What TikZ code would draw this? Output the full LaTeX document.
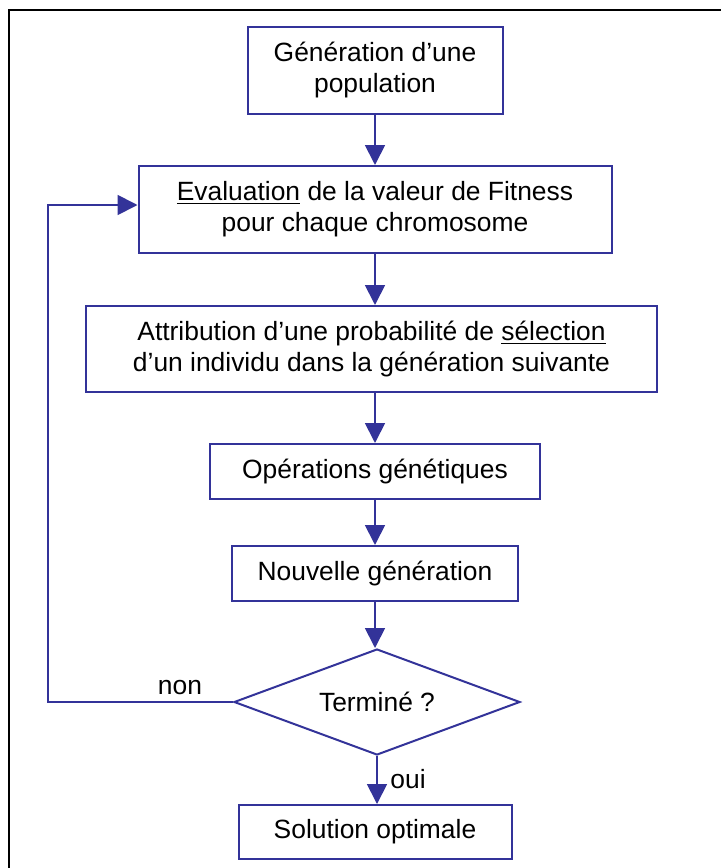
\documentclass[tikz,border=0pt]{standalone}
\usepackage{fontspec}
\setmainfont{Liberation Sans}
\usetikzlibrary{arrows.meta,shapes.geometric}
\definecolor{flowblue}{RGB}{51,51,153}
\tikzset{
  box/.style={draw=flowblue, line width=1pt, rectangle, align=center, inner sep=0pt,
    font=\fontsize{13.2}{15.5}\selectfont},
  test/.style={draw=flowblue, line width=1pt, diamond, shape aspect=2.7, inner sep=0pt,
    minimum width=143pt, minimum height=53pt, font=\fontsize{13.2}{15.5}\selectfont},
  flow/.style={draw=flowblue, line width=0.9pt, -{Triangle[length=10pt,width=10pt]}},
  tag/.style={font=\fontsize{13.2}{15.5}\selectfont, inner sep=0pt}
}
\begin{document}
\begin{tikzpicture}[x=0.5pt, y=-0.5pt]
  \useasboundingbox (0,0) rectangle (721,868);
  \draw[line width=1pt] (9,868) -- (9,10) -- (721,10);
  \node[box, minimum width=127.5pt, minimum height=43.5pt] (gen) at (375,70.5) {Génération d’une\\population};
  \node[box, minimum width=236.5pt, minimum height=43.5pt] (eval) at (375,209.5) {\underline{Evaluation} de la valeur de Fitness\\pour chaque chromosome};
  \node[box, minimum width=285.5pt, minimum height=43pt] (attr) at (371.5,349) {Attribution d’une probabilité de \underline{sélection}\\d’un individu dans la génération suivante};
  \node[box, minimum width=165pt, minimum height=27.5pt] (ops) at (375,471.5) {Opérations génétiques};
  \node[box, minimum width=143pt, minimum height=27.5pt] (nouv) at (375,573.5) {Nouvelle génération};
  \node[test] (term) at (377,702) {Terminé ?};
  \node[box, minimum width=136.5pt, minimum height=27pt] (sol) at (375,832) {Solution optimale};
  \coordinate (back) at (48,702);
  \draw[flow] (gen) -- (eval);
  \draw[flow] (eval) -- (eval.south |- attr.north);
  \draw[flow] (attr.south -| ops.north) -- (ops);
  \draw[flow] (ops) -- (nouv);
  \draw[flow] (nouv) -- (nouv.south |- term.north);
  \draw[flow] (term.south) -- (term.south |- sol.north);
  \draw[flow] (term.west) -- (back) |- ([yshift=2.25pt]eval.west);
  \node[tag] (non) at (180,688) {non};
  \node[tag, anchor=west] (oui) at (390,779) {oui};
\end{tikzpicture}
\end{document}
